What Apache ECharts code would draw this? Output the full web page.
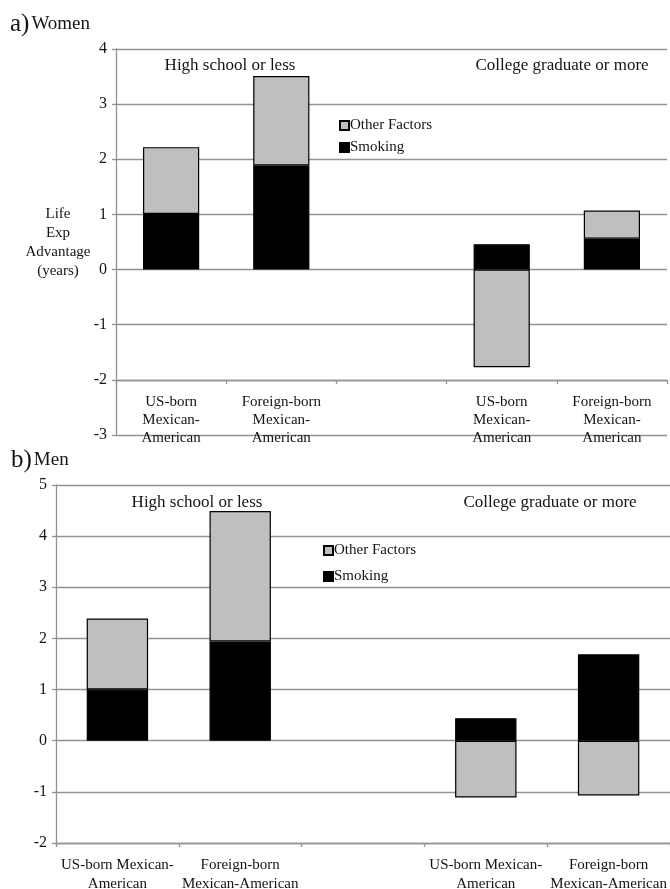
<!DOCTYPE html>
<html>
<head>
<meta charset="utf-8">
<script src="https://cdn.jsdelivr.net/npm/echarts@6/dist/echarts.min.js"></script>
<style>
  html, body { margin: 0; padding: 0; background: #fff; }
  #chart { width: 670px; height: 889px; }
</style>
</head>
<body>
<div id="chart"></div>
<script>
// Life expectancy advantage decomposition (years), stacked by factor
const womenCategories = ['US-born\nMexican-\nAmerican', 'Foreign-born\nMexican-\nAmerican', '', 'US-born\nMexican-\nAmerican', 'Foreign-born\nMexican-\nAmerican'];
const menCategories = ['US-born Mexican-\nAmerican', 'Foreign-born\nMexican-American', '', 'US-born Mexican-\nAmerican', 'Foreign-born\nMexican-American'];

const womenSmoking = [1.01, 1.89, null, 0.46, 0.56];
const womenOther = [1.21, 1.62, null, -1.77, 0.51];
const menSmoking = [1.0, 1.94, null, 0.44, 1.69];
const menOther = [1.39, 2.55, null, -1.11, -1.07];

const womenTicks = [-3, 4, 1];
const menTicks = [-2, 5, 1];

const seriesNames = ['Other Factors', 'Smoking'];
const groupLabels = ['High school or less', 'College graduate or more'];

const FONT = '"Liberation Serif", "Times New Roman", serif';
const TXT = '#141414';
const GRIDC = '#939393';

const chart = echarts.init(document.getElementById('chart'), null, { renderer: 'canvas' });

function yAxisCfg(gridIndex, t) {
  return {
    type: 'value', gridIndex: gridIndex, min: t[0], max: t[1], interval: t[2],
    axisLine: { show: true, lineStyle: { color: GRIDC, width: 1.3 } },
    axisTick: { show: true, length: 4, lineStyle: { color: GRIDC, width: 1.3 } },
    axisLabel: { color: TXT, fontFamily: FONT, fontSize: 16, margin: 9 },
    splitLine: { show: true, lineStyle: { color: GRIDC, width: 1.3 } }
  };
}

function xAxisCfg(gridIndex, cats, offset, lh, margin) {
  return {
    type: 'category', gridIndex: gridIndex, data: cats, offset: offset,
    axisLine: { show: true, onZero: false, lineStyle: { color: GRIDC, width: 1.3 } },
    axisTick: { show: true, length: 4, alignWithLabel: false, lineStyle: { color: GRIDC, width: 1.3 } },
    axisLabel: { color: TXT, fontFamily: FONT, fontSize: 15, lineHeight: lh, margin: margin, interval: 0 },
    splitLine: { show: false }
  };
}

function barSeries(name, data, xi, stack, color, width) {
  return {
    type: 'bar', name: name, data: data, xAxisIndex: xi, yAxisIndex: xi,
    stack: stack, barWidth: width,
    itemStyle: { color: color, borderColor: '#000', borderWidth: 1.2 },
    emphasis: { disabled: true }
  };
}

function legendCfg(left, top, gap) {
  return {
    data: seriesNames, orient: 'vertical', left: left, top: top, padding: 0,
    itemWidth: 9, itemHeight: 9, itemGap: gap, icon: 'rect',
    textStyle: { color: TXT, fontFamily: FONT, fontSize: 15, padding: [0, 0, 0, -4] },
    selectedMode: false
  };
}

function label(x, y, text, size) {
  return {
    type: 'text', x: x, y: y,
    style: { text: text, fill: TXT, font: size + 'px ' + FONT, textAlign: 'center', textVerticalAlign: 'middle' }
  };
}

function panelTitle(x, y, letter, word) {
  return {
    type: 'text', x: x, y: y,
    style: {
      text: '{a|' + letter + '}{b|' + word + '}',
      textVerticalAlign: 'middle',
      rich: {
        a: { fontFamily: FONT, fontSize: 25, fill: TXT },
        b: { fontFamily: FONT, fontSize: 19, fill: TXT, padding: [0, 0, 0, 2] }
      }
    }
  };
}

const option = {
  animation: false,
  backgroundColor: '#fff',
  grid: [
    { left: 116, top: 49, width: 551, height: 386, outerBoundsMode: 'none', containLabel: false },
    { left: 56, top: 485, width: 614, height: 358, outerBoundsMode: 'none', containLabel: false }
  ],
  xAxis: [
    xAxisCfg(0, womenCategories, -55, 18, 13),
    xAxisCfg(1, menCategories, 0, 19, 13)
  ],
  yAxis: [yAxisCfg(0, womenTicks), yAxisCfg(1, menTicks)],
  legend: [legendCfg(339, 118, 7), legendCfg(323, 543, 11)],
  series: [
    barSeries(seriesNames[1], womenSmoking, 0, 'w', '#000000', '51%'),
    barSeries(seriesNames[0], womenOther, 0, 'w', '#bfbfbf', '51%'),
    barSeries(seriesNames[1], menSmoking, 1, 'm', '#000000', '50%'),
    barSeries(seriesNames[0], menOther, 1, 'm', '#bfbfbf', '50%')
  ],
  graphic: [
    panelTitle(10, 24, 'a)', 'Women'),
    panelTitle(11, 460, 'b)', 'Men'),
    label(230, 66, groupLabels[0], 17),
    label(562, 66, groupLabels[1], 17),
    label(197, 503, groupLabels[0], 17),
    label(550, 503, groupLabels[1], 17),
    {
      type: 'text', x: 58, y: 243,
      style: {
        text: 'Life\nExp\nAdvantage\n(years)', fill: TXT,
        font: '15px ' + FONT, lineHeight: 19,
        textAlign: 'center', textVerticalAlign: 'middle'
      }
    }
  ]
};

chart.setOption(option);
</script>
</body>
</html>
